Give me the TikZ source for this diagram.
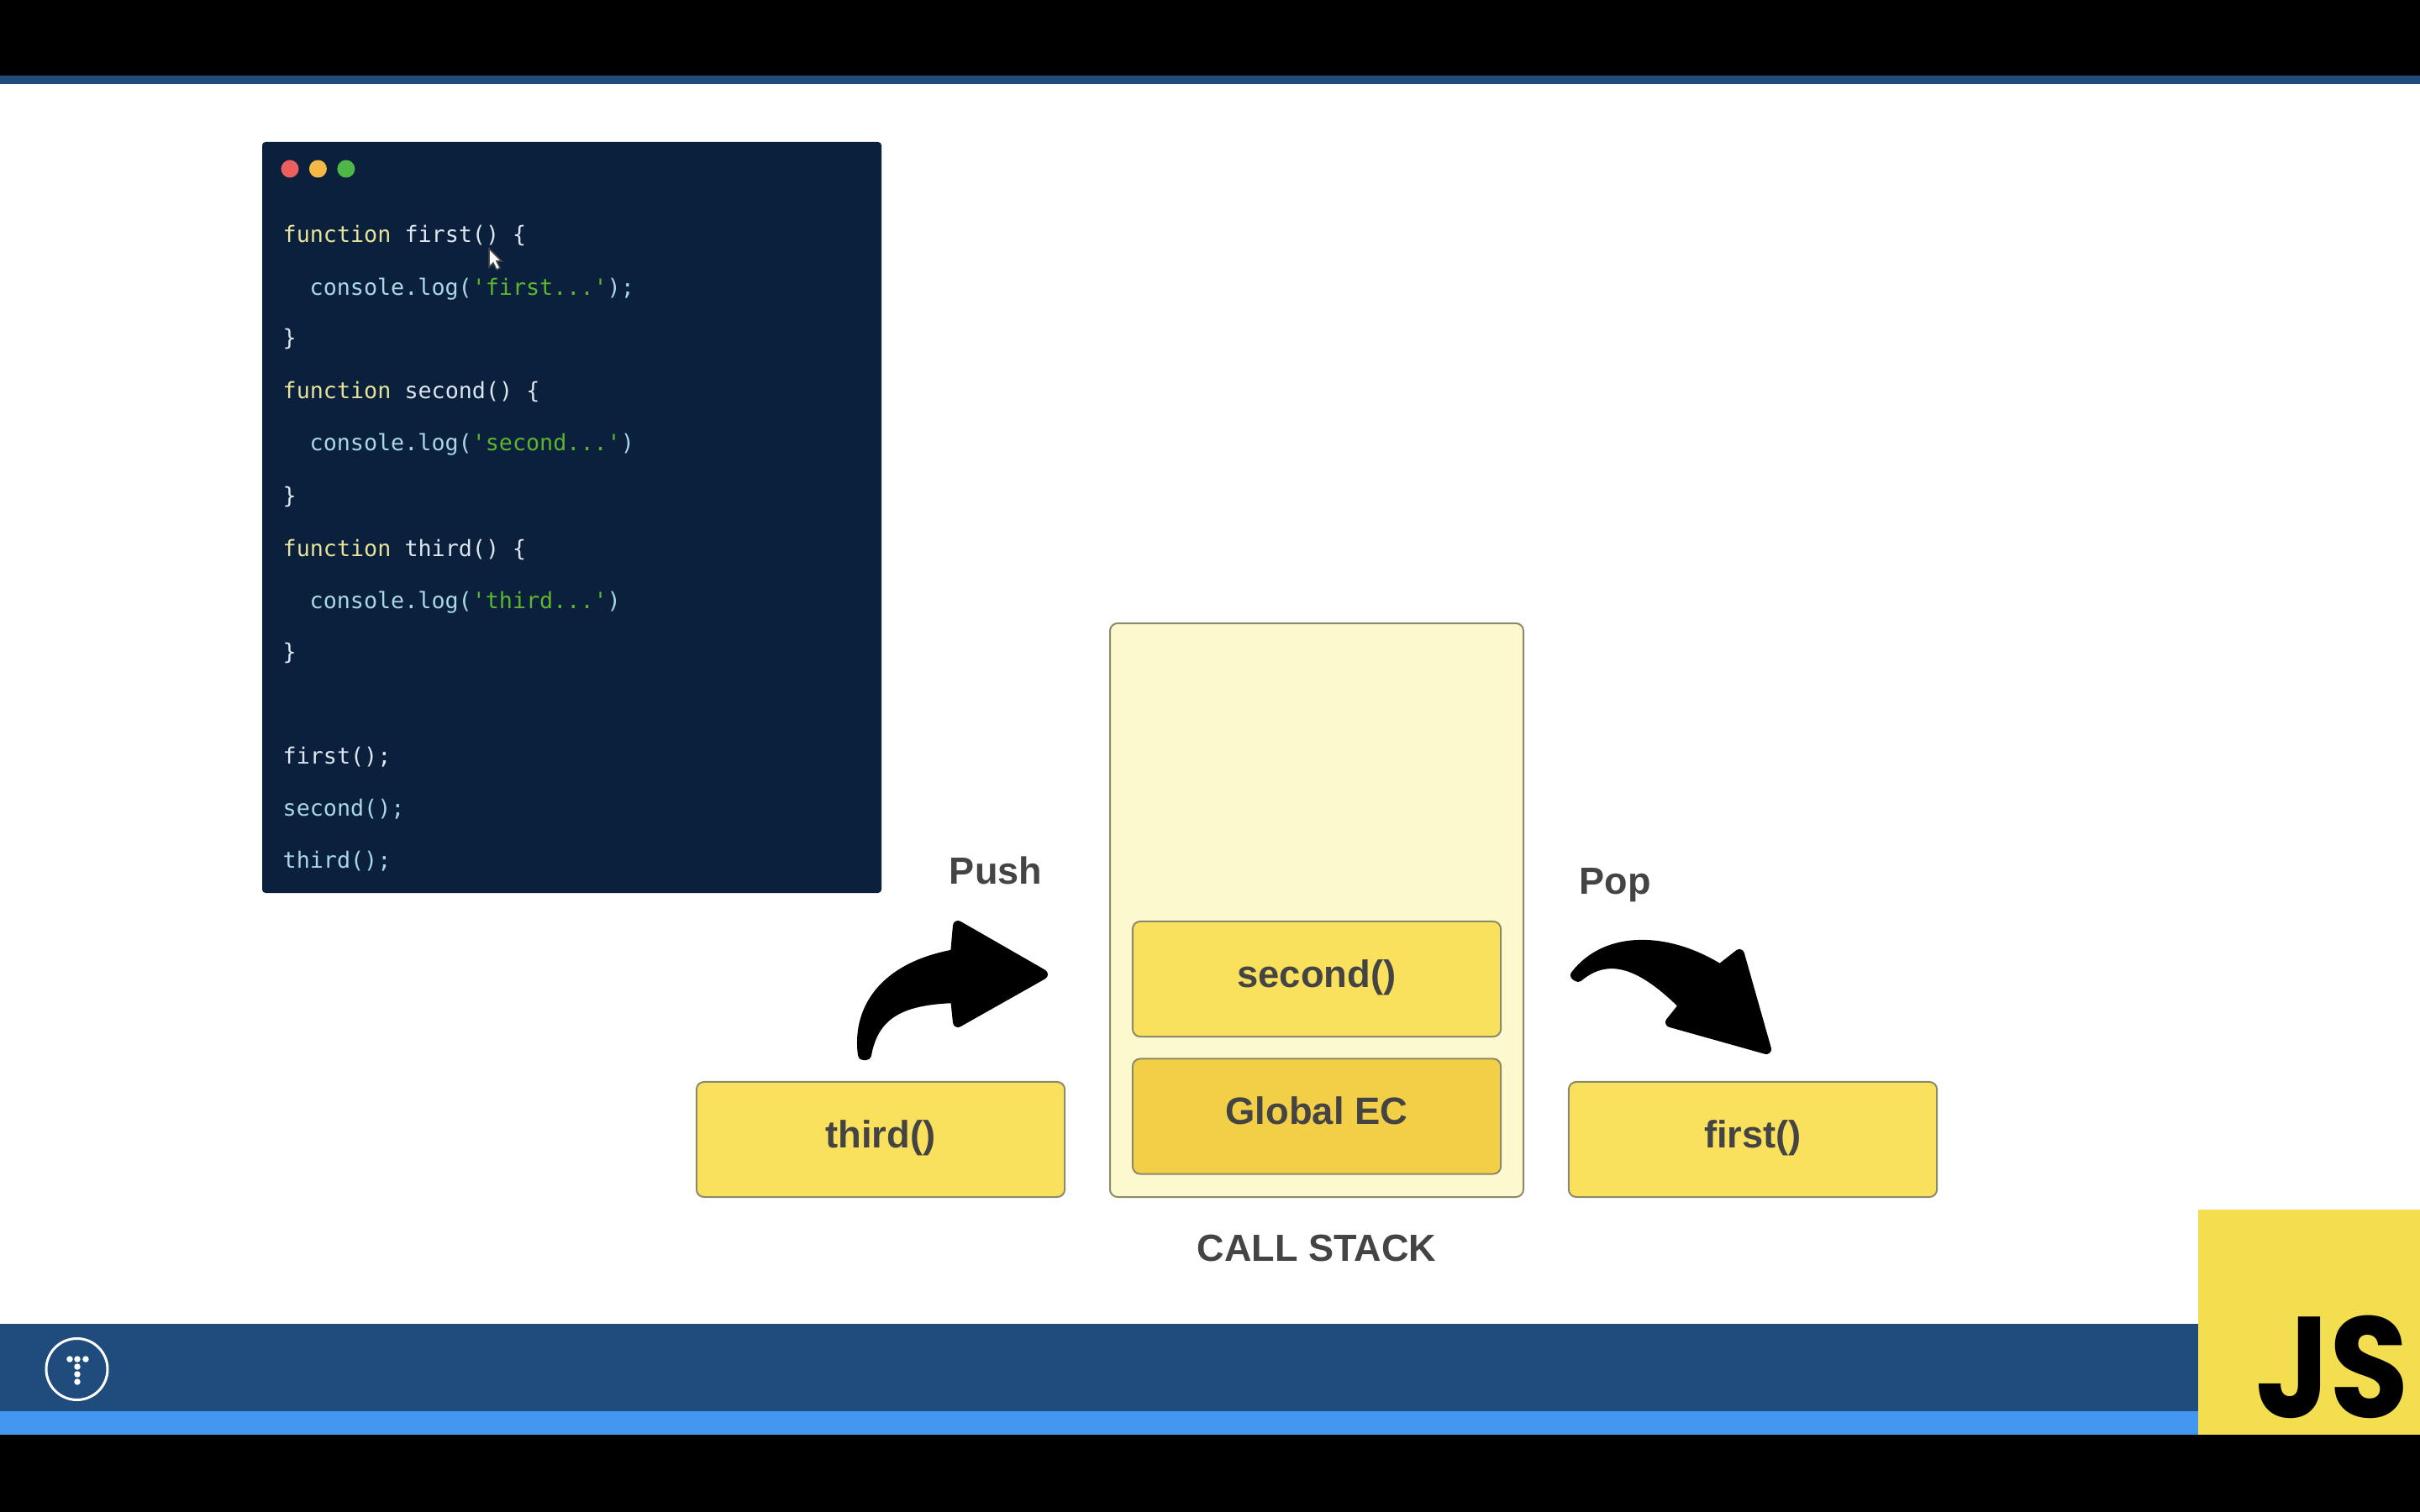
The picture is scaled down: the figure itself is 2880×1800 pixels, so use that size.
\documentclass[tikz,border=0pt]{standalone}
\usepackage{fontspec}
\setmainfont{Liberation Sans}
\newfontfamily\codefont{DejaVu Sans Mono}
\newfontfamily\logofont{Poppins}
\usetikzlibrary{positioning}
\definecolor{barblue}{HTML}{1F4C7C}
\definecolor{stripblue}{HTML}{4198EE}
\definecolor{panelblue}{HTML}{0A203D}
\definecolor{boxyellow}{HTML}{F9E15E}
\definecolor{boxgold}{HTML}{F2CF46}
\definecolor{stackcream}{HTML}{FDF9CF}
\definecolor{logoyellow}{HTML}{F3DE50}
\definecolor{labelgrey}{HTML}{444444}
\definecolor{edgegrey}{HTML}{8C8A6A}
\definecolor{kwyellow}{HTML}{E6E29A}
\definecolor{fnwhite}{HTML}{DDE6EE}
\definecolor{logcyan}{HTML}{A9D8E4}
\definecolor{strgreen}{HTML}{5DB52E}
\definecolor{btnredfill}{HTML}{EC5F5F}
\definecolor{btnamberfill}{HTML}{F3B944}
\definecolor{btngreenfill}{HTML}{4DB848}
\tikzset{
	stackbox/.style={draw=edgegrey, line width=0.2mm, rounded corners=0.9mm, minimum width=4.38cm, minimum height=1.37cm, inner sep=0, text height=10.3pt, text depth=4.7pt, text=labelgrey, font=\fontsize{12.9}{15}\selectfont\bfseries},
	sidelabel/.style={text=labelgrey, inner sep=0, font=\fontsize{12.8}{15}\selectfont\bfseries},
	codeline/.style={anchor=base west, inner sep=0, text=fnwhite, font=\fontsize{7.6}{9}\codefont},
	winbutton/.style={circle, inner sep=0, minimum size=0.21cm},
	logdot/.style={circle, fill=white, inner sep=0, minimum size=0.075cm}
}
\newcommand{\kwd}[1]{\textcolor{kwyellow}{#1}}
\newcommand{\logtxt}[1]{\textcolor{logcyan}{#1}}
\newcommand{\strtxt}[1]{\textcolor{strgreen}{#1}}

\begin{document}
\begin{tikzpicture}[x=0.01cm, y=-0.01cm]
		\useasboundingbox (0, 0) rectangle (2880, 1800);
		
		%%%%% FRAME %%%%%
		\fill[white] (0, 0) rectangle (2880, 1800);
		\fill[black] (0, 0) rectangle (2880, 90);
		\fill[barblue] (0, 90) rectangle (2880, 100);
		\fill[black] (0, 1708) rectangle (2880, 1800);
		\fill[barblue] (0, 1576) rectangle (2620, 1680);
		\fill[stripblue] (0, 1680) rectangle (2620, 1708);
		
		%%%%% CODE %%%%%
		\fill[panelblue, rounded corners=0.4mm] (312, 169) rectangle (1049, 1063);
		\node[winbutton, fill=btnredfill] (btnred) at (345, 201) {};
		\node[winbutton, fill=btnamberfill, right=0.11cm of btnred] (btnamber) {};
		\node[winbutton, fill=btngreenfill, right=0.11cm of btnamber] (btngreen) {};
		
		\node[codeline] (lineone) at (336, 289) {\kwd{function} first() \{};
		\node[codeline] (linetwo) at (368, 352) {\logtxt{console.log(}\strtxt{'first...'}\logtxt{);}};
		\node[codeline] (linethree) at (336, 412) {\}};
		\node[codeline] (linefour) at (336, 475) {\kwd{function} second() \{};
		\node[codeline] (linefive) at (368, 537) {\logtxt{console.log(}\strtxt{'second...'}\logtxt{)}};
		\node[codeline] (linesix) at (336, 599) {\}};
		\node[codeline] (lineseven) at (336, 662) {\kwd{function} third() \{};
		\node[codeline] (lineeight) at (368, 724) {\logtxt{console.log(}\strtxt{'third...'}\logtxt{)}};
		\node[codeline] (linenine) at (336, 785) {\}};
		\node[codeline] (callone) at (336, 909) {first();};
		\node[codeline] (calltwo) at (336, 971) {\logtxt{second();}};
		\node[codeline] (callthree) at (336, 1033) {\logtxt{third();}};
		
		\draw[fill=white, draw=black!70, line width=0.15mm] (582, 296) -- (582, 318) -- (587, 313) -- (591, 321) -- (595, 319) -- (591, 311) -- (597, 311) -- cycle;
		
		%%%%% STACK %%%%%
		\draw[edgegrey, fill=stackcream, line width=0.2mm, rounded corners=0.9mm] (1321, 742) rectangle (1813, 1425);
		\node[stackbox, fill=boxyellow] (secondbox) at (1567, 1165.5) {second()};
		\node[stackbox, fill=boxgold] (globalbox) at (1567, 1329) {Global EC};
		\node[stackbox, fill=boxyellow] (thirdbox) at (1048, 1356.5) {third()};
		\node[stackbox, fill=boxyellow] (firstbox) at (2086, 1356.5) {first()};
		
		\node[sidelabel] (stacklabel) at (1567, 1486) {CALL STACK};
		\node[sidelabel] (pushlabel) at (1185, 1036) {Push};
		\node[sidelabel] (poplabel) at (1922, 1054) {Pop};
		
		%%%%% ARROWS %%%%%
		\draw[fill=black, line width=1.2mm, line join=round] (1027, 1256) .. controls (1020, 1205) and (1048, 1152) .. (1137, 1136) -- (1140, 1102) -- (1241, 1160) -- (1140, 1217) -- (1137, 1188) .. controls (1075, 1190) and (1040, 1205) .. (1031, 1256) -- cycle;
		\draw[fill=black, line width=1.2mm, line join=round] (1875, 1161) .. controls (1912, 1113) and (1985, 1115) .. (2047, 1154) -- (2070, 1136) -- (2102, 1249) -- (1988, 1217) -- (2004, 1197) .. controls (1955, 1148) and (1915, 1132) .. (1878, 1163) -- cycle;
		
		%%%%% BADGES %%%%%
		\draw[white, line width=0.3mm] (91.5, 1630) circle (36.5);
		\node[logdot] (dotone) at (83, 1618) {};
		\node[logdot] (dottwo) at (92, 1618) {};
		\node[logdot] (dotthree) at (102, 1618) {};
		\node[logdot] (dotfour) at (92, 1627) {};
		\node[logdot] (dotfive) at (92, 1636) {};
		\node[logdot] (dotsix) at (92, 1645) {};
		
		\fill[logoyellow] (2616, 1440) rectangle (2880, 1708);
		\node[anchor=base east, inner sep=0, font=\fontsize{48.5}{50}\logofont\bfseries] (jslogo) at (2868, 1687) {\scalebox{0.9}[1]{JS}};
		
		%%%%% END %%%%%
	\end{tikzpicture}
\end{document}
